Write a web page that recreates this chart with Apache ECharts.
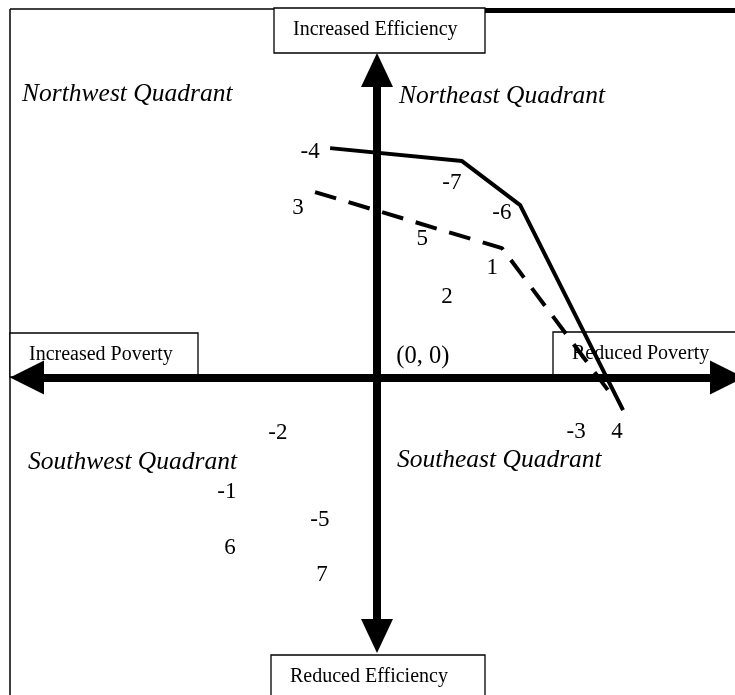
<!DOCTYPE html>
<html>
<head>
<meta charset="utf-8">
<script src="https://cdn.jsdelivr.net/npm/echarts@6/dist/echarts.min.js"></script>
<style>
  html, body { margin: 0; padding: 0; background: #fff; }
  #main { width: 735px; height: 695px; }
</style>
</head>
<body>
<div id="main"></div>
<script type="text/javascript">
    // numbered items placed in the quadrants
    var pointLabels = ['-4', '-7', '-6', '3', '5', '1', '2', '-2', '-3', '4', '-1', '-5', '6', '7'];
    var pointX = [-1.91, 2.14, 3.57, -2.26, 1.29, 3.29, 2.00, -2.83, 5.69, 6.86, -4.29, -1.63, -4.20, -1.57];
    var pointY = [7.33, 6.33, 5.34, 5.51, 4.51, 3.56, 2.62, -1.80, -1.77, -1.77, -3.72, -4.63, -5.54, -6.42];

    // frontier lines
    var solidX = [-1.34, 2.43, 4.09, 7.03];
    var solidY = [7.46, 7.04, 5.61, -1.06];
    var dashedX = [-1.77, 3.57, 6.66];
    var dashedY = [6.03, 4.21, -0.50];

    // quadrant titles (left edge of text)
    var quadrantNames = ['Northwest Quadrant', 'Northeast Quadrant', 'Southwest Quadrant', 'Southeast Quadrant'];
    var quadrantX = [-10.14, 0.63, -9.97, 0.57];
    var quadrantY = [9.22, 9.13, -2.74, -2.68];

    var originLabel = '(0, 0)';
    var originPos = [1.31, 0.67];

    var axisNames = ['Increased Efficiency', 'Reduced Efficiency', 'Increased Poverty', 'Reduced Poverty'];

    var font = '"Liberation Serif", "Times New Roman", serif';

    var zip = function (xs, ys, names) {
        return xs.map(function (x, i) {
            return { value: [x, ys[i]], name: names ? names[i] : '' };
        });
    };

    var box = function (x, y, w, h, text) {
        return {
            type: 'group',
            z: 1,
            children: [
                { type: 'rect', shape: { x: x, y: y, width: w, height: h },
                  style: { fill: '#fff', stroke: '#000', lineWidth: 1.3 } },
                { type: 'text', x: x + 19, y: y + 22,
                  style: { text: text, font: '20px ' + font, fill: '#000', verticalAlign: 'middle', align: 'left' } }
            ]
        };
    };

    var axisDef = function (min, max, size) {
        return {
            type: 'value',
            min: min,
            max: max,
            z: 3,
            axisLine: {
                onZero: true,
                symbol: ['triangle', 'triangle'],
                symbolSize: size,
                lineStyle: { color: '#000', width: 8 }
            },
            axisTick: { show: false },
            axisLabel: { show: false },
            splitLine: { show: false }
        };
    };

    var textSeries = function (data, size, style, align) {
        return {
            type: 'scatter',
            z: 5,
            clip: false,
            silent: true,
            symbolSize: 1,
            itemStyle: { color: 'rgba(0,0,0,0)', opacity: 1 },
            data: data,
            label: {
                show: true, position: 'inside', align: align, formatter: '{b}', opacity: 1,
                color: '#000', fontFamily: font, fontSize: size, fontStyle: style
            }
        };
    };

    var myChart = echarts.init(document.getElementById('main'), null, { renderer: 'canvas' });
    myChart.setOption({
        animation: false,
        backgroundColor: '#fff',
        grid: { left: 27, right: 8, top: 70, bottom: 59, show: false },
        xAxis: axisDef(-10, 10, [34, 34]),
        yAxis: axisDef(-8.4, 10, [32, 34]),
        graphic: [
            { type: 'line', z: 0, shape: { x1: 10, y1: 9, x2: 10, y2: 695 }, style: { stroke: '#000', lineWidth: 1.5 } },
            { type: 'line', z: 0, shape: { x1: 10, y1: 9, x2: 274, y2: 9 }, style: { stroke: '#000', lineWidth: 1.5 } },
            { type: 'line', z: 0, shape: { x1: 485, y1: 10.5, x2: 735, y2: 10.5 }, style: { stroke: '#000', lineWidth: 5 } },
            box(274, 8, 211, 45, axisNames[0]),
            box(271, 655, 214, 45, axisNames[1]),
            box(10, 333, 188, 44, axisNames[2]),
            box(553, 332, 190, 45, axisNames[3])
        ],
        series: [
            {
                type: 'line',
                z: 4,
                data: zip(solidX, solidY),
                symbol: 'none',
                lineStyle: { color: '#000', width: 4 }
            },
            {
                type: 'line',
                z: 4,
                data: zip(dashedX, dashedY),
                symbol: 'none',
                lineStyle: { color: '#000', width: 4, type: [22, 13] }
            },
            textSeries(zip(pointX, pointY, pointLabels), 23, 'normal', 'center'),
            textSeries(zip(quadrantX, quadrantY, quadrantNames), 25.5, 'italic', 'left'),
            textSeries([{ value: originPos, name: originLabel }], 24.5, 'normal', 'center')
        ]
    });
</script>
</body>
</html>
